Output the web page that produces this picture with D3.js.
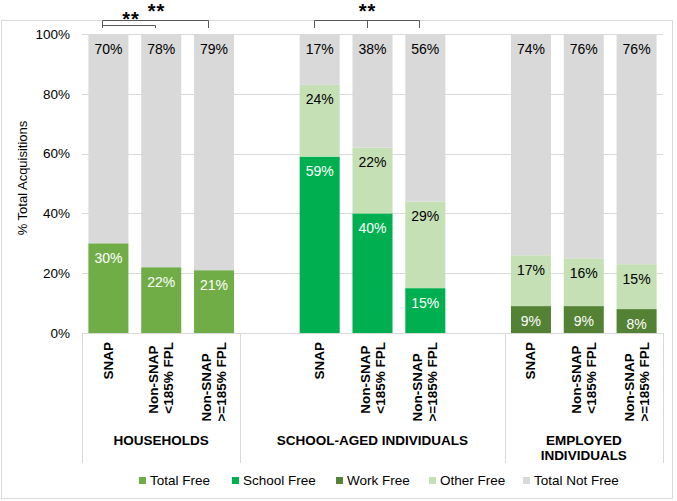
<!DOCTYPE html>
<html>
<head>
<meta charset="utf-8">
<script src="https://cdn.jsdelivr.net/npm/d3@7"></script>
<style>
  html, body { margin: 0; padding: 0; background: #fff; }
  svg { display: block; font-family: "Liberation Sans", Arial, sans-serif; }
</style>
</head>
<body>
<svg id="chart" width="677" height="501"></svg>
<script>
// ---------------- DATA ----------------
const groups = ["HOUSEHOLDS", "SCHOOL-AGED INDIVIDUALS", "EMPLOYED\nINDIVIDUALS"];
const categories = ["SNAP", "Non-SNAP\n<185% FPL", "Non-SNAP\n>=185% FPL"];

const hhTotalFree   = [30, 22, 21];
const hhNotFree     = [70, 78, 79];
const schoolFree    = [59, 40, 15];
const schoolOther   = [24, 22, 29];
const schoolNotFree = [17, 38, 56];
const workFree      = [9, 9, 8];
const workOther     = [17, 16, 15];
const workNotFree   = [74, 76, 76];

const seriesNames = ["Total Free", "School Free", "Work Free", "Other Free", "Total Not Free"];
const seriesColors = ["#70AD47", "#00B050", "#548235", "#C5E0B4", "#D9D9D9"];
const labelColors  = ["#ffffff", "#ffffff", "#ffffff", "#000000", "#000000"];

const yTicks = [0, 20, 40, 60, 80, 100];

// slots: each group gets its categories; school group is padded with blank slots on both sides
const slotDomain = ["H0","H1","H2","B1","S0","S1","S2","B2","E0","E1","E2"];
const groupSlots = [["H0","H2"], ["B1","B2"], ["E0","E2"]];

const stacks = [];
categories.forEach((c, i) => {
  stacks.push({slot: "H" + i, cat: c, segs: [[0, hhTotalFree[i]], [4, hhNotFree[i]]]});
});
categories.forEach((c, i) => {
  stacks.push({slot: "S" + i, cat: c, segs: [[1, schoolFree[i]], [3, schoolOther[i]], [4, schoolNotFree[i]]]});
});
categories.forEach((c, i) => {
  stacks.push({slot: "E" + i, cat: c, segs: [[2, workFree[i]], [3, workOther[i]], [4, workNotFree[i]]]});
});

// significance brackets
const brackets = [
  {from: "H0", to: "H1", mid: null, level: 25, starLevel: "low"},
  {from: "H0", to: "H2", mid: null, level: 20, starLevel: "high"},
  {from: "S0", to: "S2", mid: "S1", level: 20, starLevel: "high"}
];
const sigLabel = "**";

// ---------------- LAYOUT ----------------
const svg = d3.select("#chart");
const plot = {left: 82, right: 663, top: 34, bottom: 333};

const x = d3.scaleBand().domain(slotDomain).range([plot.left, plot.right])
  .paddingInner(0.242).paddingOuter(0.121);
const y = d3.scaleLinear().domain([0, 100]).range([plot.bottom, plot.top]);

// chart border
svg.append("rect").attr("x", 1.5).attr("y", 20.5).attr("width", 671).attr("height", 478)
  .attr("fill", "none").attr("stroke", "#D9D9D9").attr("stroke-width", 1);

// gridlines
svg.append("g").selectAll("line").data(yTicks).join("line")
  .attr("x1", plot.left).attr("x2", plot.right)
  .attr("y1", d => Math.round(y(d)) + 0.5).attr("y2", d => Math.round(y(d)) + 0.5)
  .attr("stroke", "#D9D9D9").attr("stroke-width", 1);

// y axis labels
const yAxis = d3.axisLeft(y).tickValues(yTicks).tickFormat(d => d + "%").tickSize(0).tickPadding(0);
const yg = svg.append("g").attr("transform", `translate(70,0)`).call(yAxis);
yg.select(".domain").remove();
yg.selectAll("text").attr("font-size", 13.5).attr("fill", "#000")
  .attr("font-family", "Liberation Sans, Arial, sans-serif");

// y title
svg.append("text").attr("transform", "translate(22,178) rotate(-90)")
  .attr("text-anchor", "middle").attr("dominant-baseline", "central")
  .attr("font-size", 13).attr("fill", "#000").text("% Total Acquisitions");

// bars
const barG = svg.append("g");
stacks.forEach(st => {
  let cum = 0;
  st.segs.forEach(([si, v], k) => {
    const last = k === st.segs.length - 1;
    const top = last ? 100 : cum + v;
    barG.append("rect")
      .attr("x", x(st.slot)).attr("width", x.bandwidth())
      .attr("y", y(top)).attr("height", y(cum) - y(top))
      .attr("fill", seriesColors[si]);
    barG.append("text")
      .attr("x", x(st.slot) + x.bandwidth() / 2)
      .attr("y", y(top) + 14.5)
      .attr("text-anchor", "middle").attr("dominant-baseline", "central")
      .attr("font-size", 14).attr("fill", labelColors[si])
      .text(v + "%");
    cum = top;
  });
});

// category axis separators
const half = x.step() * x.paddingInner() / 2;
const sepX = [plot.left, x("B1") - half, x("E0") - half, plot.right];
svg.append("g").selectAll("line").data(sepX).join("line")
  .attr("x1", d => Math.round(d) + 0.5).attr("x2", d => Math.round(d) + 0.5)
  .attr("y1", plot.bottom).attr("y2", 463)
  .attr("stroke", "#D9D9D9").attr("stroke-width", 1);

// category labels (rotated)
const catG = svg.append("g");
stacks.forEach(st => {
  const lines = st.cat.split("\n");
  const cx = x(st.slot) + x.bandwidth() / 2;
  const g = catG.append("g");
  const texts = lines.map(ln => g.append("text")
    .attr("font-size", 13.5).attr("font-weight", "bold").attr("fill", "#000")
    .attr("text-anchor", "start").attr("dominant-baseline", "central").text(ln));
  const maxW = d3.max(texts, t => t.node().getComputedTextLength());
  texts.forEach((t, i) => {
    const lx = cx + (i - (lines.length - 1) / 2) * 15;
    t.attr("transform", `translate(${lx},${342 + maxW}) rotate(-90)`);
  });
});

// group labels
groups.forEach((gname, gi) => {
  const [a, b] = groupSlots[gi];
  const x0 = x(a) - half;
  const x1 = x(b) + x.bandwidth() + half;
  const cx = (x0 + x1) / 2;
  gname.split("\n").forEach((ln, i) => {
    svg.append("text").attr("x", cx).attr("y", 440 + i * 15)
      .attr("text-anchor", "middle").attr("dominant-baseline", "central")
      .attr("font-size", 13.5).attr("font-weight", "bold").attr("fill", "#000").text(ln);
  });
});

// legend
const legendX = [139, 232, 336, 429, 523];
const lg = svg.append("g");
seriesNames.forEach((n, i) => {
  lg.append("rect").attr("x", legendX[i]).attr("y", 477).attr("width", 7).attr("height", 7)
    .attr("fill", seriesColors[i]);
  lg.append("text").attr("x", legendX[i] + 11).attr("y", 480.5)
    .attr("dominant-baseline", "central").attr("font-size", 13.5).attr("fill", "#000").text(n);
});

// significance brackets
const bg = svg.append("g").attr("stroke", "#595959").attr("stroke-width", 1).attr("fill", "none");
const bx = s => Math.round(x(s) + x.bandwidth() / 2 - 6) + 0.5;
brackets.forEach(b => {
  const xa = bx(b.from), xb = bx(b.to);
  bg.append("path").attr("d", `M${xa},28 V${b.level + 0.5} H${xb} V28`);
  if (b.mid) bg.append("path").attr("d", `M${bx(b.mid)},${b.level + 0.5} V28`);
  // star position: low bracket -> centred over bracket, high -> over the right-hand pair / middle
  let sx, sy;
  if (b.starLevel === "low") { sx = (xa + xb) / 2 + 2; sy = 25.5; }
  else { sx = b.mid ? bx(b.mid) : (bx(b.to) + bx(b.mid || b.from)) / 2 + 1; sy = 18.3; }
  svg.append("text").attr("x", sx).attr("y", sy).attr("text-anchor", "middle")
    .attr("font-size", 20).attr("letter-spacing", 1).attr("font-weight", "bold")
    .attr("fill", "#000").text(sigLabel);
});
</script>
</body>
</html>
